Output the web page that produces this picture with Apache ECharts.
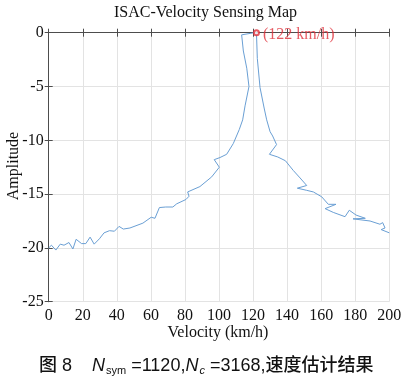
<!DOCTYPE html>
<html>
<head>
<meta charset="utf-8">
<script src="https://cdn.jsdelivr.net/npm/echarts@6/dist/echarts.min.js"></script>
<style>
html,body{margin:0;padding:0;background:#fff;}
#c{width:411px;height:384px;}
</style>
</head>
<body>
<div id="c"></div>
<script>
// ---- data ----
var velocity = [0,1.6,4.2,6.8,9,11.9,14.2,16.1,19.3,21.8,24.3,26.7,29.8,32.5,35.7,38.6,41.3,43.8,47.7,55.3,60.2,62.4,65,68.7,72.9,75.2,80.6,82.4,81.6,88.8,95.7,100.2,97.2,100.6,104.5,108.4,111.9,113.9,115.3,117.6,116.3,114.3,113.3,120.7,122,122.5,124.1,126.5,128,130,131.5,133.8,129.6,134.5,139,143.6,147.6,151.5,146,151.5,155.4,160.3,164.2,168.7,162.3,167.1,174,176.5,180.5,185.9,178.7,188.7,194.5,196.1,197.5,195.2,200];
var amplitude = [-20,-19.75,-20.2,-19.65,-19.75,-19.5,-20.1,-19.2,-19.6,-19.6,-19,-19.65,-19.15,-18.6,-18.4,-18.45,-18,-18.25,-18.15,-17.7,-17.15,-17.25,-16.25,-16.2,-16.2,-15.9,-15.5,-15.2,-14.8,-14.3,-13.4,-12.5,-11.8,-11.6,-11.3,-10.3,-9,-8.1,-6.8,-5,-3.3,-1.7,-0.2,0,0,-2.4,-5.1,-7.0,-8.1,-9.2,-9.6,-10.4,-11.3,-11.55,-11.9,-12.8,-13.5,-14.2,-14.45,-14.65,-14.8,-15.25,-15.95,-15.95,-16.35,-16.7,-17.1,-16.5,-16.95,-17.25,-17.3,-17.5,-17.8,-17.65,-18.15,-18.3,-18.6];
var peakVelocity = 122;
var peakAmplitude = 0;
var peakLabel = '(122 km/h)';
var xTicks = [0,20,40,60,80,100,120,140,160,180,200];
var yTicks = [-25,-20,-15,-10,-5,0];
var titleText = 'ISAC-Velocity Sensing Map';
var xName = 'Velocity (km/h)';
var yName = 'Amplitude';

var lineData = velocity.map(function(v,i){return [v, amplitude[i]];});
var serif = 'Liberation Serif';
var axisCol = '#4d4d4d';

var chart = echarts.init(document.getElementById('c'), null, {renderer:'canvas'});
function tickStyle(){ return {show:true, inside:true, length:4, lineStyle:{color:axisCol, width:1}}; }
function labelStyle(m){ return {show:true, margin:m, color:'#111', fontFamily:serif, fontSize:16}; }
var option = {
  animation:false,
  backgroundColor:'#fff',
  textStyle:{fontFamily:serif, fontSize:16, color:'#111'},
  grid:{left:48.7, right:21.7, top:32.7, bottom:82.3, containLabel:false},
  xAxis:[{
    type:'value', min:xTicks[0], max:xTicks[xTicks.length-1], interval:20, position:'bottom',
    axisLine:{show:true, lineStyle:{color:axisCol, width:1}},
    axisTick:tickStyle(),
    axisLabel:labelStyle(6),
    splitLine:{show:true, lineStyle:{color:'#e3e3e3', width:1}}
  },{
    type:'value', min:xTicks[0], max:xTicks[xTicks.length-1], interval:20, position:'top',
    axisLine:{show:true, lineStyle:{color:axisCol, width:1}},
    axisTick:tickStyle(),
    axisLabel:{show:false}, splitLine:{show:false}
  }],
  yAxis:[{
    type:'value', min:yTicks[0], max:yTicks[yTicks.length-1], interval:5, position:'left',
    axisLine:{show:true, lineStyle:{color:axisCol, width:1}},
    axisTick:tickStyle(),
    axisLabel:labelStyle(5),
    splitLine:{show:true, lineStyle:{color:'#e3e3e3', width:1}}
  },{
    type:'value', min:yTicks[0], max:yTicks[yTicks.length-1], interval:5, position:'right',
    axisLine:{show:true, lineStyle:{color:axisCol, width:1}},
    axisTick:tickStyle(),
    axisLabel:{show:false}, splitLine:{show:false}
  }],
  series:[{
    type:'line', data:lineData, showSymbol:false, symbol:'none',
    lineStyle:{color:'#6a9fd4', width:1}, xAxisIndex:0, yAxisIndex:0, z:3, clip:false
  },{
    type:'scatter', data:[[peakVelocity, peakAmplitude]], symbol:'emptyCircle', symbolSize:5,
    itemStyle:{color:'#e0303a', borderColor:'#e0303a', borderWidth:1},
    label:{show:true, position:'right', distance:3, formatter:peakLabel, color:'#e0303a', fontFamily:serif, fontSize:16, offset:[0,2]},
    z:5
  }],
  graphic:[
    {type:'text', left:'center', top:5, style:{text:titleText, font:'16px "Liberation Serif"', fill:'#111'}},
    {type:'text', x:218, y:333, style:{text:xName, font:'16px "Liberation Serif"', fill:'#111', textAlign:'center', textVerticalAlign:'middle'}},
    {type:'text', x:13.5, y:166, rotation:Math.PI/2, style:{text:yName, font:'16px "Liberation Serif"', fill:'#111', textAlign:'center', textVerticalAlign:'middle'}},
    {type:'text', x:39, y:366, style:{
      text:'{a|图 8}{sp| }{n|N}{sub|sym}{a| =1120,}{n|N}{subi|c}{a| =3168,速度估计结果}',
      textVerticalAlign:'middle',
      rich:{
        a:{fontFamily:'Liberation Sans, Noto Sans CJK SC', fontSize:18, fontWeight:500, fill:'#111'},
        sp:{fontSize:18, width:20},
        n:{fontFamily:'Liberation Sans', fontStyle:'italic', fontSize:18, fill:'#111'},
        sub:{fontFamily:'Liberation Sans', fontSize:11, fill:'#111', padding:[10,0,0,1]},
        subi:{fontFamily:'Liberation Sans', fontStyle:'italic', fontSize:11, fill:'#111', padding:[10,0,0,1]}
      }
    }}
  ]
};
chart.setOption(option);
</script>
</body>
</html>
